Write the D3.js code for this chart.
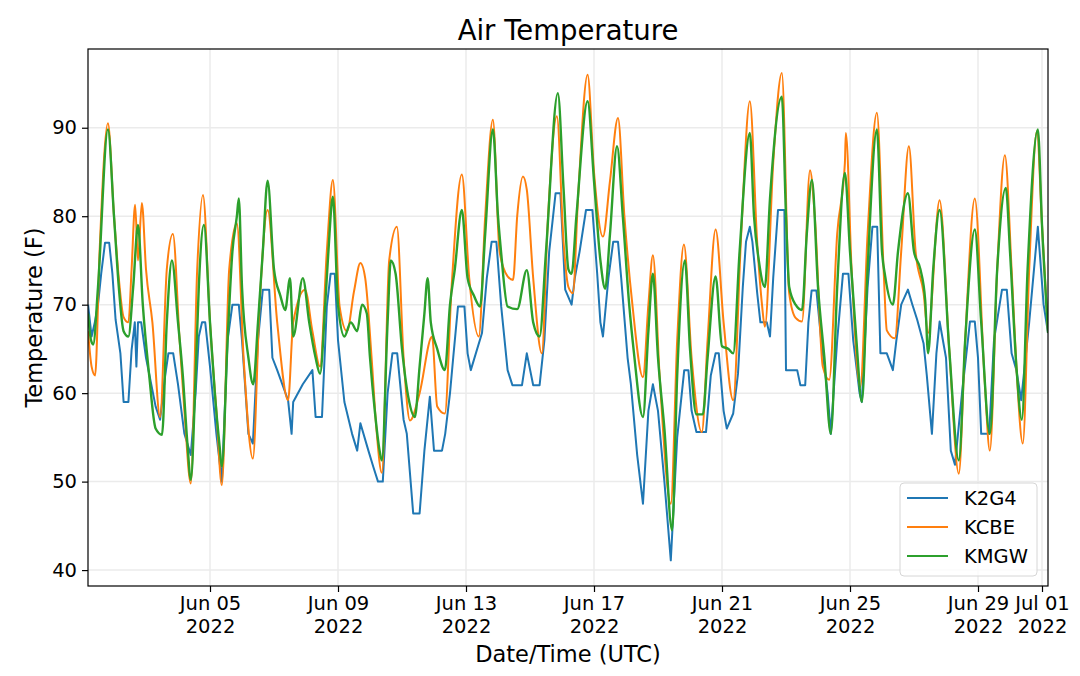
<!DOCTYPE html>
<html>
<head>
<meta charset="utf-8">
<script src="https://cdn.jsdelivr.net/npm/d3@7"></script>
<style>
  body { margin: 0; background: #fff; }
  svg text { font-family: "DejaVu Sans", sans-serif; fill: #000; }
</style>
</head>
<body>
<script>
// 각 관측소 기온 — [6월 1일 00:00 UTC 이후 경과 일수, 화씨]
const k2g4 = [[0.19,70],[0.3,66.4],[0.4,68],[0.5,70],[0.6,73.5],[0.72,77],[0.85,77],[0.95,73.5],[1.05,68.3],[1.2,64.5],[1.3,59],[1.45,59],[1.55,64.9],[1.65,68],[1.7,63],[1.75,68],[1.85,68],[2.0,64],[2.3,58.5],[2.44,57],[2.6,62],[2.7,64.5],[2.85,64.5],[3.0,61],[3.2,55.4],[3.4,53],[3.55,60],[3.65,66.4],[3.75,68],[3.85,68],[4.0,63],[4.2,55.4],[4.37,50],[4.55,66],[4.7,70],[4.9,70],[5.0,66],[5.2,55.4],[5.34,54.3],[5.5,66],[5.65,71.7],[5.85,71.7],[5.95,64],[6.1,62.6],[6.44,59.2],[6.55,55.4],[6.6,59],[6.9,61],[7.2,62.6],[7.3,57.3],[7.5,57.3],[7.65,69.8],[7.77,73.5],[7.9,73.5],[8.0,66],[8.2,59],[8.44,55.4],[8.6,53.5],[8.7,56.6],[8.95,53.5],[9.1,51.7],[9.25,50],[9.4,50],[9.55,60],[9.7,64.5],[9.85,64.5],[10.05,57],[10.15,55.4],[10.35,46.4],[10.55,46.4],[10.7,53.5],[10.87,59.6],[11.0,53.5],[11.25,53.5],[11.35,55.4],[11.5,60],[11.6,64],[11.75,69.8],[11.95,69.8],[12.05,64.5],[12.15,62.6],[12.5,66.8],[12.65,73],[12.8,77.1],[12.95,77.1],[13.1,69.8],[13.3,62.6],[13.45,60.9],[13.75,60.9],[13.9,64.5],[14.1,60.9],[14.3,60.9],[14.45,66],[14.6,76],[14.8,82.6],[14.95,82.6],[15.1,71.7],[15.3,70],[15.4,73],[15.55,76],[15.75,80.7],[15.95,80.7],[16.1,73.5],[16.2,68],[16.28,66.4],[16.45,73],[16.6,77.1],[16.75,77.1],[16.85,73],[17.05,64],[17.15,61.1],[17.35,53],[17.53,47.5],[17.7,58],[17.84,61],[18.0,58],[18.2,50],[18.4,41.1],[18.6,55],[18.82,62.6],[18.95,62.6],[19.05,58],[19.2,55.6],[19.5,55.6],[19.65,62],[19.8,64.5],[19.9,64.5],[20.05,58],[20.15,56],[20.35,57.7],[20.5,62.2],[20.65,72],[20.75,77.1],[20.87,78.8],[20.95,77.1],[21.1,71.3],[21.2,68],[21.4,68],[21.5,66.4],[21.6,73],[21.75,80.7],[21.95,80.7],[22.0,62.6],[22.35,62.6],[22.45,60.9],[22.6,60.9],[22.7,68],[22.8,71.6],[22.95,71.6],[23.1,66],[23.3,60],[23.4,55.4],[23.6,66],[23.78,73.5],[23.95,73.5],[24.1,66],[24.3,60],[24.37,59],[24.55,72],[24.7,78.8],[24.85,78.8],[24.95,64.5],[25.15,64.5],[25.34,62.6],[25.45,66],[25.6,70],[25.81,71.7],[25.95,70],[26.1,68.3],[26.3,65.6],[26.4,62],[26.56,55.4],[26.7,64.5],[26.8,68.1],[27.0,64],[27.15,53.5],[27.28,51.9],[27.5,60],[27.75,68.1],[27.9,68.1],[28.0,64],[28.1,55.4],[28.35,55.4],[28.5,66],[28.75,71.7],[28.9,71.7],[29.05,64.5],[29.2,62.6],[29.35,59.2],[29.6,68],[29.87,78.8],[30.05,70],[30.19,66.8]];

const kcbe = [[0.19,67],[0.3,63],[0.41,62],[0.55,76],[0.81,90.5],[1.0,80],[1.15,73],[1.3,68.6],[1.45,68],[1.55,74],[1.66,81.3],[1.75,75],[1.87,81.5],[2.0,74],[2.2,68],[2.44,57.3],[2.65,74],[2.84,78],[3.05,66],[3.2,58],[3.4,49.8],[3.6,74],[3.78,82.4],[4.0,68],[4.2,58],[4.37,49.6],[4.6,74],[4.84,79.2],[5.05,64],[5.34,52.6],[5.55,70],[5.8,80.7],[6.1,68],[6.44,59.2],[6.6,68],[6.97,71.7],[7.2,67],[7.44,63],[7.65,76],[7.84,84.1],[8.05,69.8],[8.28,67],[8.5,71.5],[8.7,74.7],[8.85,73],[9.05,64],[9.2,56],[9.37,51],[9.6,75],[9.84,78.8],[10.05,64],[10.25,56.9],[10.55,60],[10.94,66.4],[11.1,58.5],[11.34,57.7],[11.55,72],[11.87,84.7],[12.1,73],[12.4,66.4],[12.6,80],[12.84,90.9],[13.05,76],[13.3,73.2],[13.47,72.8],[13.6,80],[13.78,84.5],[13.9,83],[14.1,73],[14.37,64.5],[14.55,79],[14.84,91.3],[15.05,77],[15.2,72],[15.34,71.3],[15.5,82],[15.8,96],[16.0,85],[16.28,77.7],[16.5,84],[16.75,91.1],[16.95,80],[17.2,70],[17.53,61.8],[17.7,70],[17.84,75.6],[18.05,62],[18.4,47.5],[18.6,66],[18.81,76.8],[19.05,64],[19.37,55.6],[19.55,66],[19.8,78.5],[20.05,68],[20.35,59.2],[20.6,78],[20.87,93],[21.1,77],[21.25,70],[21.34,67.5],[21.6,86],[21.87,96.2],[22.1,71.3],[22.3,68.5],[22.5,68.1],[22.75,85.2],[22.9,80],[23.15,63],[23.35,61.5],[23.6,78],[23.84,86],[23.87,89.4],[24.05,74],[24.32,60.7],[24.55,78],[24.84,91.7],[25.05,74],[25.15,67.1],[25.4,66.2],[25.6,76],[25.84,87.9],[26.05,76],[26.3,71.3],[26.44,66.8],[26.8,81.8],[27.1,65],[27.4,50.9],[27.6,66],[27.9,82],[28.2,62],[28.37,53.5],[28.6,74],[28.84,86.9],[29.05,74],[29.2,63],[29.4,54.3],[29.6,74],[29.84,89.6],[30.0,79],[30.19,66.8]];

const kmgw = [[0.19,69],[0.28,66],[0.35,65.5],[0.5,72],[0.81,89.8],[1.0,80],[1.15,72],[1.3,67],[1.45,66.4],[1.6,72],[1.75,79],[1.9,70],[2.1,62],[2.3,56],[2.5,55.3],[2.65,68],[2.81,75],[3.0,68],[3.15,62],[3.3,54],[3.4,50.2],[3.55,62],[3.65,72],[3.81,79],[4.0,68],[4.15,60],[4.3,54],[4.37,51.7],[4.55,66],[4.7,76],[4.84,80],[4.9,82],[5.0,72],[5.2,64],[5.35,61],[5.5,68],[5.65,76],[5.8,84],[6.0,74],[6.2,71],[6.35,69.4],[6.5,73],[6.6,66.4],[6.9,73],[7.1,68],[7.3,64],[7.44,62.2],[7.6,70],[7.7,76],[7.84,82.2],[8.0,70],[8.2,66.4],[8.4,68],[8.6,67],[8.75,70],[8.9,69],[9.0,64],[9.15,58],[9.3,53.5],[9.37,52.4],[9.55,68],[9.65,75],[9.8,73.5],[10.0,65],[10.2,59.5],[10.4,57.3],[10.55,63],[10.7,69],[10.8,73],[10.9,68],[11.1,65],[11.34,62.6],[11.5,70],[11.65,74],[11.87,80.7],[12.05,73],[12.25,71],[12.44,69.8],[12.6,78],[12.84,89.8],[13.0,80],[13.1,75.8],[13.3,69.8],[13.6,69.5],[13.9,73.9],[14.1,68],[14.3,66.4],[14.5,76],[14.87,93.9],[15.05,83],[15.2,74],[15.3,73.5],[15.45,80],[15.8,93],[16.0,84],[16.2,75],[16.35,71.8],[16.5,78],[16.72,87.9],[16.9,80],[17.1,70],[17.25,64.5],[17.53,57.3],[17.7,67],[17.84,73.5],[18.0,64],[18.2,56],[18.44,44.5],[18.6,62],[18.84,75],[19.0,65],[19.2,57.6],[19.4,57.6],[19.55,64],[19.8,73.2],[20.0,65.3],[20.2,65],[20.35,64.5],[20.55,76],[20.87,89.4],[21.0,80],[21.15,75],[21.34,72],[21.5,82],[21.87,93.5],[22.0,80],[22.1,72],[22.3,70],[22.5,69.4],[22.65,78],[22.81,84.1],[23.0,72],[23.2,64],[23.4,55.4],[23.6,72],[23.84,84.9],[24.0,76],[24.2,66],[24.37,59],[24.55,74],[24.84,89.8],[25.0,76],[25.1,73.2],[25.34,70],[25.5,76],[25.81,82.6],[26.0,76],[26.2,74],[26.35,70.5],[26.44,64.5],[26.6,74],[26.8,80.7],[27.1,65],[27.4,52.4],[27.6,66],[27.9,78.5],[28.1,68],[28.37,55.4],[28.6,74],[28.87,83.2],[29.0,76],[29.2,63],[29.37,57],[29.55,74],[29.87,89.8],[30.0,79],[30.19,66.8]];

const stations = ['K2G4','KCBE','KMGW'];
const colors = ['#1f77b4','#ff7f0e','#2ca02c'];
const seriesList = [k2g4, kcbe, kmgw];

const xTickDays = [4, 8, 12, 16, 20, 24, 28, 30];   // Jun 05 ... Jul 01
const yTicks = [40, 50, 60, 70, 80, 90];

const W = 1080, H = 676;
// window.top 과 이름이 겹쳐서 앞에 plot 을 붙임
const plotL = 88, plotR = 1048, plotT = 49, plotB = 586;

const t0 = Date.UTC(2022, 5, 1);
const toDate = d => new Date(t0 + d * 86400000);

const svg = d3.select('body')
              .append('svg')
              .attr('width', W)
              .attr('height', H);

const x = d3.scaleUtc()
            .domain([toDate(0.1875), toDate(30.1875)])
            .range([plotL, plotR]);

const y = d3.scaleLinear()
            .domain([38.2, 98.9])
            .range([plotB, plotT]);

// 격자
svg.append('g')
   .selectAll('line')
   .data(yTicks)
   .join('line')
     .attr('x1', plotL).attr('x2', plotR)
     .attr('y1', d => y(d)).attr('y2', d => y(d))
     .attr('stroke', '#ebebeb').attr('stroke-width', 1.5);

svg.append('g')
   .selectAll('line')
   .data(xTickDays)
   .join('line')
     .attr('x1', d => x(toDate(d))).attr('x2', d => x(toDate(d)))
     .attr('y1', plotT).attr('y2', plotB)
     .attr('stroke', '#ebebeb').attr('stroke-width', 1.5);

svg.append('clipPath')
   .attr('id', 'plot')
   .append('rect')
     .attr('x', plotL).attr('y', plotT)
     .attr('width', plotR - plotL).attr('height', plotB - plotT);

// K2G4 는 계단처럼 끊겨서 직선, 나머지는 봉우리가 둥글게
const curves = [d3.curveLinear, d3.curveMonotoneX, d3.curveMonotoneX];
const widths = [2, 2, 2.4];

svg.append('g')
   .attr('clip-path', 'url(#plot)')
   .selectAll('path')
   .data(seriesList)
   .join('path')
     .attr('d', (d, i) => d3.line()
                            .x(p => x(toDate(p[0])))
                            .y(p => y(p[1]))
                            .curve(curves[i])(d))
     .attr('fill', 'none')
     .attr('stroke', (d, i) => colors[i])
     .attr('stroke-width', (d, i) => widths[i])
     .attr('stroke-linejoin', 'round');

// 축
const xAxis = svg.append('g')
   .attr('transform', `translate(0,${plotB})`)
   .call(d3.axisBottom(x)
           .tickValues(xTickDays.map(toDate))
           .tickSize(6)
           .tickFormat(''));

const fmtDay = d3.utcFormat('%b %d');
const fmtYear = d3.utcFormat('%Y');

xAxis.selectAll('.tick')
     .append('text')
       .attr('text-anchor', 'middle')
       .style('font-size', '19.5px')
       .call(t => {
         t.append('tspan').attr('x', 0).attr('y', 24).text(d => fmtDay(d));
         t.append('tspan').attr('x', 0).attr('y', 47).text(d => fmtYear(d));
       });

const yAxis = svg.append('g')
   .attr('transform', `translate(${plotL},0)`)
   .call(d3.axisLeft(y)
           .tickValues(yTicks)
           .tickSize(6)
           .tickPadding(5));

yAxis.selectAll('text').style('font-size', '19.5px');

svg.selectAll('.domain').remove();
svg.selectAll('.tick line').attr('stroke', '#000').attr('stroke-width', 1.2);

svg.append('rect')
   .attr('x', plotL).attr('y', plotT)
   .attr('width', plotR - plotL).attr('height', plotB - plotT)
   .attr('fill', 'none')
   .attr('stroke', '#000')
   .attr('stroke-width', 1.2);

// 글자
svg.append('text')
   .attr('x', (plotL + plotR) / 2).attr('y', 40)
   .attr('text-anchor', 'middle')
   .style('font-size', '27.5px')
   .text('Air Temperature');

svg.append('text')
   .attr('x', (plotL + plotR) / 2).attr('y', 662)
   .attr('text-anchor', 'middle')
   .style('font-size', '22.5px')
   .text('Date/Time (UTC)');

svg.append('text')
   .attr('transform', `translate(42,${(plotT + plotB) / 2}) rotate(-90)`)
   .attr('text-anchor', 'middle')
   .style('font-size', '22.5px')
   .text('Temperature (F)');

// 범례
const legend = svg.append('g');

legend.append('rect')
      .attr('x', 900).attr('y', 483)
      .attr('width', 137).attr('height', 93)
      .attr('rx', 4)
      .attr('fill', '#fff').attr('fill-opacity', 0.8)
      .attr('stroke', '#d6d6d6');

const items = legend.selectAll('g.item')
      .data(stations)
      .join('g')
        .attr('class', 'item')
        .attr('transform', (d, i) => `translate(907,${498 + i * 29})`);

items.append('line')
     .attr('x1', 0).attr('x2', 41)
     .attr('stroke', (d, i) => colors[i])
     .attr('stroke-width', 2);

items.append('text')
     .attr('x', 57).attr('y', 7)
     .style('font-size', '19.5px')
     .text(d => d);
</script>
</body>
</html>
